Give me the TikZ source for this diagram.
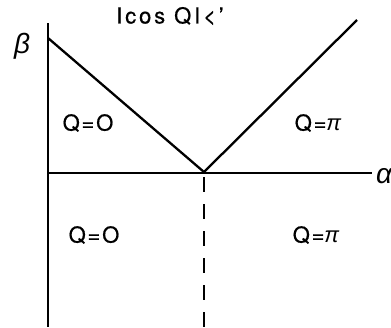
\documentclass[tikz,border=0pt]{standalone}
\usepackage{fontspec}
\setmainfont{TeX Gyre Heros}
\newfontfamily\gr{Liberation Sans}
\begin{document}
\begin{tikzpicture}[x=1pt,y=-1pt,
  axis/.style={line width=1.6pt},
  bound/.style={line width=2.3pt},
  dashln/.style={line width=2pt, dash pattern=on 15pt off 12pt, dash phase=22pt},
  lbl/.style={font=\fontsize{22}{23}\selectfont\addfontfeature{LetterSpace=8,FakeBold=0.6}, inner sep=0pt},
  glbl/.style={font=\fontsize{28}{28}\selectfont\gr\itshape, inner sep=0pt}]
\useasboundingbox (0,0) rectangle (391,327);
\coordinate (ytop) at (48,23);
\coordinate (ybot) at (48,327);
\coordinate (xl) at (48,173);
\coordinate (xr) at (372,173);
\coordinate (lt) at (48,38);
\coordinate (v) at (204,172);
\coordinate (rt) at (357,20);
\coordinate (db) at (204,327);
\draw[axis] (ytop) -- (ybot);
\draw[axis] (xl) -- (xr);
\draw[bound] (lt) -- (v) -- (rt);
\draw[dashln] (v) -- (db);
\node[glbl] (beta) at (22,46) {β};
\node[glbl] (alpha) at (384,176) {α};
\node[lbl] (top) at (170,16) {\addfontfeature{LetterSpace=13}Icos QI<'};
\node[lbl] (q1) at (88,123) {Q=O};
\node[lbl] (q2) at (318,123) {Q=\gr\itshape π};
\node[lbl] (q3) at (94,235) {Q=O};
\node[lbl] (q4) at (316,235) {Q=\gr\itshape π};
\end{tikzpicture}
\end{document}
